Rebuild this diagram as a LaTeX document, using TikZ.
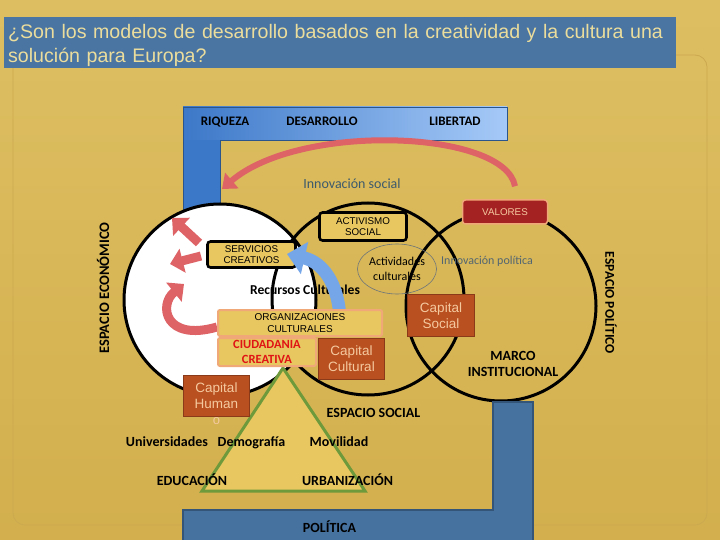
\documentclass[tikz,border=0pt]{standalone}
\usepackage{fontspec}
\setmainfont{Liberation Sans}
\newfontfamily\carlito{Carlito}
\usepackage{xcolor}
\usetikzlibrary{arrows.meta,positioning,shapes.geometric}

\definecolor{bgtop}{HTML}{DDBF62}
\definecolor{bgbottom}{HTML}{D3AF4D}
\definecolor{frameline}{HTML}{CBA94F}
\definecolor{titleblue}{HTML}{4A74A2}
\definecolor{titletext}{HTML}{EBDD9C}
\definecolor{barblue}{HTML}{3C78C8}
\definecolor{barlight}{HTML}{A6CAF8}
\definecolor{polblue}{HTML}{4672A0}
\definecolor{boxgold}{HTML}{E8C660}
\definecolor{orgedge}{HTML}{F0A878}
\definecolor{capbrown}{HTML}{B9501F}
\definecolor{capedge}{HTML}{8A3A18}
\definecolor{captext}{HTML}{F5C9A0}
\definecolor{valred}{HTML}{A52222}
\definecolor{arrowred}{HTML}{DD6367}
\definecolor{arrowblue}{HTML}{74A6E8}
\definecolor{slate}{HTML}{3D5A6C}
\definecolor{trigreen}{HTML}{6E9A3C}
\definecolor{citred}{HTML}{E01414}

\begin{document}
\begin{tikzpicture}[
  x=1pt, y=-1pt,
  ring/.style={circle, draw=black, line width=3pt, inner sep=0pt},
  blackbox/.style={draw=black, line width=2.6pt, rounded corners=3pt, fill=boxgold,
    align=center, font=\fontsize{9.8}{11.5}\selectfont, inner sep=1pt},
  orgbox/.style={draw=orgedge, line width=2pt, rounded corners=2pt, fill=boxgold,
    align=center, inner sep=1pt},
  capbox/.style={draw=capedge, line width=1.5pt, fill=capbrown, text=captext,
    align=center, font=\fontsize{13.5}{16}\selectfont, inner sep=1pt},
  lbl/.style={font=\carlito\bfseries\fontsize{14}{16}\selectfont, align=center},
  word/.style={lbl, anchor=base, inner sep=0pt},
  barword/.style={word, font=\carlito\bfseries\fontsize{13}{15}\selectfont},
  fat/.style={line width=9pt, arrowred, -{Triangle[length=13pt,width=24pt]}}
]
  \useasboundingbox (0,0) rectangle (720,540);
  \shade[top color=bgtop, bottom color=bgbottom] (0,0) rectangle (720,540);
  \draw[frameline, line width=0.8pt, rounded corners=12pt] (13,55) rectangle (707,525);

  % title
  \node[anchor=north west, fill=titleblue, minimum width=672pt, minimum height=51pt,
    text width=664pt, text height=20pt, inner xsep=4pt, inner ysep=0pt, align=left, text=titletext,
    font=\fontsize{19.6}{24.5}\selectfont] (title) at (4,17)
    {¿Son los modelos de desarrollo basados en la creatividad y la cultura una\\solución para Europa?};

  % top blue bar
  \fill[barblue] (183,107) rectangle (220,215);
  \shade[left color=barblue, right color=barlight] (183,107) rectangle (507,140);
  \draw[barblue!70!black, line width=0.6pt] (183,215) -- (183,107) -- (507,107) -- (507,140) -- (220,140) -- (220,215);
  \node[barword] (riqueza) at (225,126) {RIQUEZA};
  \node[barword] (desarrollo) at (322,126) {DESARROLLO};
  \node[barword] (libertad) at (455,126) {LIBERTAD};

  % circles
  \node[ring, fill=white, minimum size=192pt] (econ) at (220,300) {};
  \node[ring, minimum size=192pt] (social) at (368,299) {};
  \node[ring, minimum size=190pt] (politico) at (501,306) {};

  \node[lbl, rotate=90, font=\carlito\bfseries\fontsize{14.5}{16}\selectfont] (especo) at (103,288) {ESPACIO ECONÓMICO};
  \node[lbl, rotate=-90, font=\carlito\bfseries\fontsize{13.5}{16}\selectfont] (esppol) at (611,303) {ESPACIO POLÍTICO};

  % triangle
  \draw[trigreen, line width=3pt, fill=boxgold] (283,368) -- (202,491) -- (365,491) -- cycle;

  % bottom blue bar
  \draw[polblue!75!black, line width=1.2pt, fill=polblue]
    (183,510) -- (493,510) -- (493,402) -- (533,402) -- (533,545) -- (183,545) -- cycle;
  \node[word] (politica) at (329.5,532) {POLÍTICA};

  % valores and social innovation
  \node[draw=orgedge, line width=1.5pt, rounded corners=3pt, fill=valred, text=captext,
    minimum width=85pt, minimum height=24pt, font=\fontsize{9.8}{11}\selectfont] (valores) at (505,212) {VALORES};
  \draw[line width=6pt, arrowred, -{Triangle[length=13pt,width=20pt]}]
    ([xshift=10pt,yshift=13pt]valores.north) .. controls (505,130) and (300,122) .. (222,189);
  \node[font=\carlito\fontsize{14}{16}\selectfont, text=slate] (innsoc) at (352,184) {Innovación social};

  % boxes in the circles
  \node[blackbox, minimum width=88pt, minimum height=26pt] (servicios) at (251.5,254.5) {SERVICIOS\\CREATIVOS};
  \node[blackbox, minimum width=87pt, minimum height=28pt] (activismo) at (363,226.5) {ACTIVISMO\\SOCIAL};
  \node[ellipse, draw=gray!70!slate, line width=0.6pt, minimum width=76pt, minimum height=50pt,
    inner sep=0pt, align=center, font=\carlito\fontsize{12}{14.5}\selectfont] (actividades) at (397,269) {Actividades\\culturales};
  \node[font=\carlito\fontsize{12}{14}\selectfont, text=slate!70!gray] (innpol) at (487,261) {Innovación política};
  \node[lbl, font=\carlito\bfseries\fontsize{13.6}{16}\selectfont] (recursos) at (305,290) {Recursos Culturales};

  % arrows
  \coordinate (orgwest) at (217,327);
  \coordinate (orgtop) at (340,318);
  \draw[fat] (199,243) -- (172,218);
  \draw[fat] (201,256) -- (170,264);
  \draw[fat] (orgwest) .. controls (165,342) and (158,305) .. (184,284);
  \draw[line width=13pt, arrowblue, -{Triangle[length=18pt,width=32pt]}]
    (orgtop) .. controls (338,282) and (322,262) .. (287,254);

  \node[orgbox, minimum width=164pt, minimum height=26pt, font=\fontsize{10}{11.5}\selectfont] (organizaciones) at (300,323) {ORGANIZACIONES\\CULTURALES};
  \node[orgbox, minimum width=98pt, minimum height=28pt, text=citred,
    font=\carlito\bfseries\fontsize{12.5}{14.5}\selectfont, below=0pt of organizaciones.south west, anchor=north west] (ciudadania) {CIUDADANIA\\CREATIVA};
  \node[capbox, minimum width=66pt, minimum height=41pt] (capcultural) at (351.5,359) {Capital\\Cultural};
  \node[capbox, minimum width=67pt, minimum height=42pt] (capsocial) at (441,315.5) {Capital\\Social};
  \node[capbox, minimum width=66pt, minimum height=41pt] (caphumano) at (216.5,396) {Capital\\Human};
  \node[text=captext, font=\fontsize{13}{15}\selectfont, inner sep=0pt, below=0pt of caphumano] (caphumo) {o};

  % labels
  \node[lbl] (marco) at (513,364) {MARCO\\INSTITUCIONAL};
  \node[word] (espsocial) at (373.5,417) {ESPACIO SOCIAL};
  \node[word] (universidades) at (167,446) {Universidades};
  \node[word] (demografia) at (251.5,446) {Demografía};
  \node[word] (movilidad) at (339,446) {Movilidad};
  \node[word] (educacion) at (192,485) {EDUCACIÓN};
  \node[word] (urbanizacion) at (347.5,485) {URBANIZACIÓN};
\end{tikzpicture}
\end{document}
